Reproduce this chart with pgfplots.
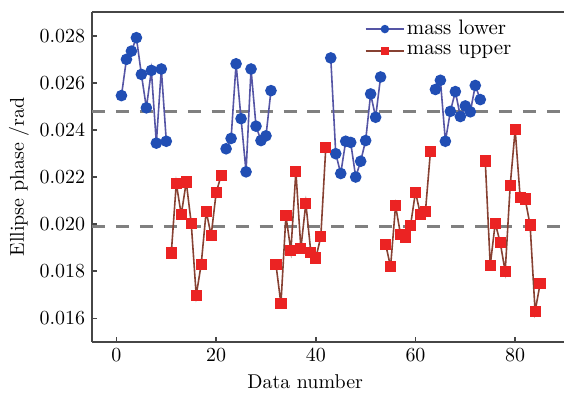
\documentclass[border=0pt]{standalone}
\usepackage{pgfplots}
\pgfplotsset{compat=1.18}
\definecolor{bmark}{RGB}{33,78,180}
\definecolor{bline}{RGB}{85,85,165}
\definecolor{rmark}{RGB}{235,35,35}
\definecolor{rline}{RGB}{135,65,50}
\definecolor{axgray}{RGB}{70,70,70}
\definecolor{dgray}{RGB}{128,128,128}
\begin{document}
\begin{tikzpicture}
\begin{axis}[
  scale only axis,
  width=236.35pt, height=165.2pt,
  xmin=-4.9, xmax=89.7,
  ymin=0.015, ymax=0.029,
  axis x line*=box, axis y line*=left,
  axis line style={axgray, line width=0.9pt},
  tick align=inside, tick pos=left,
  major tick length=2.5pt,
  tick style={axgray, line width=0.7pt},
  xtick={0,20,40,60,80},
  ytick={0.016,0.018,0.020,0.022,0.024,0.026,0.028},
  scaled y ticks=false,
  yticklabel style={/pgf/number format/fixed, /pgf/number format/precision=3, /pgf/number format/fixed zerofill},
  xlabel={Data number},
  ylabel={Ellipse phase /rad},
  every axis x label/.style={at={(axis description cs:0.452,0)}, anchor=center, yshift=-19.9pt},
  every axis y label/.style={at={(axis description cs:-0.155,0.5)}, rotate=90, anchor=center},
  unbounded coords=jump,
  legend style={at={(rel axis cs:0.565,0.995)}, anchor=north west, draw=none, fill=none, row sep=1.5pt, nodes={inner sep=1pt}, font=\fontsize{10.5}{11}\selectfont},
  legend image code/.code={\draw[mark repeat=2,mark phase=2,mark size=1.7pt] plot coordinates {(0cm,0cm) (0.34cm,0cm) (0.68cm,0cm)};},
  legend cell align=left,
  clip=false,
]
\addplot[forget plot, dgray, line width=1.5pt, dash pattern=on 6.5pt off 5.5pt] coordinates {(-4.9,0.0248) (89.7,0.0248)};
\addplot[forget plot, dgray, line width=1.5pt, dash pattern=on 6.5pt off 5.5pt] coordinates {(-4.9,0.0199) (89.7,0.0199)};
\addplot[bline, line width=0.8pt, mark=*, mark size=2.5pt, mark options={fill=bmark, draw=bmark}] coordinates {
(1,0.02546) (2,0.02700) (3,0.02735) (4,0.02792) (5,0.02636) (6,0.02494) (7,0.02653) (8,0.02344) (9,0.02659) (10,0.02352)
(15,nan)
(22,0.02320) (23,0.02364) (24,0.02681) (25,0.02448) (26,0.02222) (27,0.02659) (28,0.02416) (29,0.02355) (30,0.02375) (31,0.02567)
(37,nan)
(43,0.02706) (44,0.02299) (45,0.02215) (46,0.02352) (47,0.02347) (48,0.02200) (49,0.02267) (50,0.02355) (51,0.02553) (52,0.02454) (53,0.02625)
(58,nan)
(64,0.02572) (65,0.02611) (66,0.02352) (67,0.02479) (68,0.02563) (69,0.02457) (70,0.02502) (71,0.02477) (72,0.02589) (73,0.02529)
};
\addlegendentry{mass lower}
\addplot[rline, line width=0.8pt, mark=square*, mark size=2.4pt, mark options={fill=rmark, draw=rmark}] coordinates {
(11,0.01877) (12,0.02173) (13,0.02040) (14,0.02179) (15,0.02004) (16,0.01697) (17,0.01829) (18,0.02054) (19,0.01952) (20,0.02133) (21,0.02207)
(26,nan)
(32,0.01829) (33,0.01661) (34,0.02035) (35,0.01887) (36,0.02224) (37,0.01897) (38,0.02089) (39,0.01880) (40,0.01856) (41,0.01946) (42,0.02325)
(48,nan)
(54,0.01915) (55,0.01819) (56,0.02078) (57,0.01956) (58,0.01945) (59,0.01994) (60,0.02136) (61,0.02040) (62,0.02054) (63,0.02309)
(68,nan)
(74,0.02268) (75,0.01825) (76,0.02004) (77,0.01922) (78,0.01798) (79,0.02163) (80,0.02402) (81,0.02114) (82,0.02107) (83,0.01996) (84,0.01629) (85,0.01746)
};
\addlegendentry{mass upper}
\path (rel axis cs:0,0) ++(-46.15pt,-25.15pt) coordinate (bbsw);
\path (rel axis cs:1,1) ++(0pt,6.15pt) coordinate (bbne);
\end{axis}
\path (bbsw) rectangle (bbne);
\end{tikzpicture}
\end{document}
